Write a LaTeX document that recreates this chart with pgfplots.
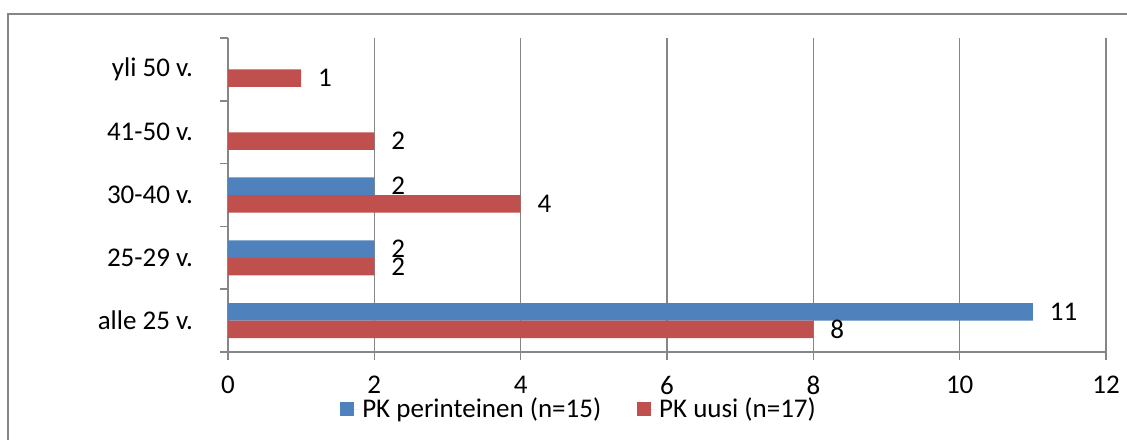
\documentclass[border=0pt]{standalone}
\usepackage{pgfplots}
\pgfplotsset{compat=1.18}
\usepackage{fontspec}
\setmainfont{Carlito}
\definecolor{cblue}{HTML}{4F81BD}
\definecolor{cred}{HTML}{C0504D}
\definecolor{cgrid}{HTML}{868686}
\begin{document}
\begin{tikzpicture}[font=\fontsize{13.5}{15.5}\selectfont]
\clip (0pt,0pt) rectangle (563.5pt,-219.5pt);
\draw[cgrid, line width=0.75pt] (4pt,-300pt) -- (4pt,-7pt) -- (700pt,-7pt);
\begin{axis}[
  at={(114pt,-176pt)}, anchor=south west,
  width=439pt, height=157pt, scale only axis,
  xbar, bar width=8.75pt,
  xmin=0, xmax=12, ymin=-0.5, ymax=4.5,
  axis x line*=bottom, axis y line*=left,
  axis line style={cgrid, line width=0.75pt},
  xtick={0,2,...,12},
  xmajorgrids, grid style={cgrid, line width=0.75pt},
  tick align=outside, major tick length=4pt,
  tick style={cgrid, line width=0.75pt},
  ytick={-0.5,0.5,...,4.5},
  yticklabels={,,,,,},
  extra y ticks={0,1,2,3,4},
  extra y tick labels={alle 25 v.,25-29 v.,30-40 v.,41-50 v.,yli 50 v.},
  extra y tick style={major tick length=0pt, yticklabel style={xshift=-14pt}},
  xticklabel style={yshift=-4.5pt},
  /pgf/number format/assume math mode=true,
  nodes near coords,
  every node near coord/.append style={anchor=west, xshift=5pt, black, font=\fontsize{13.5}{15.5}\selectfont},
  legend style={at={(0.401,-0.182)}, anchor=center, draw=none, fill=none,
    legend columns=2, font=\fontsize{13.5}{15.5}\selectfont,
    /tikz/every even column/.append style={column sep=16pt}},
  legend image code/.code={\fill[#1] (0pt,-3.5pt) rectangle (7pt,3.5pt); \path (0pt,0pt) -- (9pt,0pt);},
]
\addplot[fill=cblue, draw=none, bar shift=4.4pt] coordinates {(11,0) (2,1) (2,2)};
\addlegendentry{PK perinteinen (n=15)}
\addplot[fill=cred, draw=none, bar shift=-4.4pt] coordinates {(8,0) (2,1) (4,2) (2,3) (1,4)};
\addlegendentry{PK uusi (n=17)}
\end{axis}
\end{tikzpicture}
\end{document}
